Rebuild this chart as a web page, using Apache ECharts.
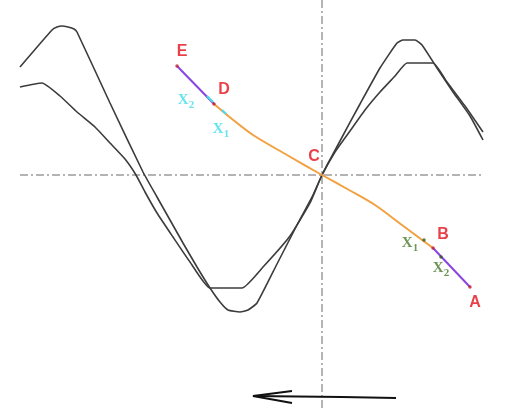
<!DOCTYPE html>
<html>
<head>
<meta charset="utf-8">
<script src="https://cdn.jsdelivr.net/npm/echarts@6/dist/echarts.min.js"></script>
<style>html,body{margin:0;padding:0;background:#fff;}#c{width:506px;height:411px;}</style>
</head>
<body>
<div id="c"></div>
<script>
// Coordinates relative to point C (x to the right, y upward)
var outerCurve = [[-302,108],[-270,145],[-265,148],[-260,149],[-254,148],[-248,146],[-245,143],[-212,72],[-179,3],[-165,-22],[-152,-45],[-139,-68],[-125,-92],[-112,-113],[-102,-127],[-94,-135],[-82,-137],[-74,-135],[-65,-128],[-45,-89],[-25,-50],[-9,-20],[0,0],[18,34],[38,71],[58,107],[75,132],[81,135],[93,135],[100,130],[115,107],[131,83],[148,59],[161,35]];
var innerCurve = [[-302,88],[-280,92],[-262,79],[-245,63],[-227,48],[-212,32],[-197,16],[-186,0],[-177,-17],[-165,-38],[-149,-62],[-132,-87],[-112,-113],[-80,-113],[-59,-92],[-32,-61],[-12,-28],[0,0],[13,23],[28,44],[43,65],[58,83],[73,99],[85,112],[111,112],[125,93],[143,69],[161,43]];
var orangeCurve = [[-108,71],[-90,56],[-69,40],[-35,20],[0,0],[27,-15],[53,-30],[80,-50],[111,-73]];
var purpleED = [[-145,109],[-108,71]];
var purpleBA = [[111,-73],[148,-112]];
var cyanTicks = [[[-115,79],[-109,73]],[[-100,65],[-96,61]]];
var greenTicks = [[102,-65],[119,-82]];
var endPoints = [[-145,109],[-108,71],[111,-73],[148,-112]];
var hAxisLine = [[-302,0],[161,0]];
var vAxisLine = [[0,175],[0,-236]];
var arrowShaft = [[74,-223],[20,-222],[-69,-221]];
var arrowHead = [[-30,-216],[-69,-221],[-30,-228]];
var pointLabels = [['E',-140,123],['D',-98,85],['C',-8,18],['B',121,-60],['A',153,-128]];
var cyanLabels = [['2',-136,73],['1',-101,44]];
var greenLabels = [['1',88,-70],['2',119,-95]];

var chart = echarts.init(document.getElementById('c'));
function lineS(data, color, width, type, z) {
  return {type:'line', data:data, symbol:'none', silent:true, z:z||2,
    lineStyle:{color:color, width:width, type:type||'solid'}};
}
var series = [
  lineS(hAxisLine,'#9c9c9c',1.5,[8,3,2,3],1),
  lineS(vAxisLine,'#9c9c9c',1.5,[8,3,2,3],1),
  Object.assign(lineS(outerCurve,'#3c3c3c',1.6),{smooth:0.15}),
  Object.assign(lineS(innerCurve,'#3c3c3c',1.6),{smooth:0.15}),
  Object.assign(lineS(orangeCurve,'#f2a040',2,'solid',3),{smooth:0.3}),
  lineS(purpleED,'#8a44e0',2,'solid',3),
  lineS(purpleBA,'#8a44e0',2,'solid',3),
  lineS(arrowShaft,'#111',2),
  lineS(arrowHead,'#111',2)
];
cyanTicks.forEach(function(t){ series.push(lineS(t,'#48dce8',2.2,'solid',4)); });
series.push({type:'scatter', data:greenTicks, symbolSize:3.5, itemStyle:{color:'#2e5a1c'}, z:5, silent:true});
series.push({type:'scatter', data:endPoints, symbolSize:3.5, itemStyle:{color:'#c0202a'}, z:5, silent:true});
series.push({type:'scatter', z:6, silent:true, symbolSize:0,
  data:pointLabels.map(function(p){return {value:[p[1],p[2]], name:p[0]};}),
  label:{show:true, position:'inside', formatter:'{b}', color:'#e4121c', fontFamily:'Liberation Sans', fontWeight:'bold', fontSize:16}});
function subLabels(arr, color) {
  return {type:'scatter', z:6, silent:true, symbolSize:0,
    data:arr.map(function(p){return {value:[p[1],p[2]], name:p[0]};}),
    label:{show:true, position:'inside', color:color,
      formatter:function(d){return '{x|X}{s|'+d.name+'}';},
      rich:{x:{fontFamily:'Liberation Serif', fontWeight:'bold', fontSize:15, color:color, lineHeight:18, verticalAlign:'top'},
            s:{fontFamily:'Liberation Serif', fontWeight:'bold', fontSize:11, color:color, lineHeight:18, verticalAlign:'bottom'}}}};
}
series.push(subLabels(cyanLabels,'#40dde8'));
series.push(subLabels(greenLabels,'#4a7a2c'));

chart.setOption({
  animation:false,
  backgroundColor:'#ffffff',
  grid:{left:0,right:0,top:0,bottom:0},
  xAxis:{type:'value', min:-322, max:184, show:false},
  yAxis:{type:'value', min:-236, max:175, show:false},
  series:series
});
</script>
</body>
</html>
